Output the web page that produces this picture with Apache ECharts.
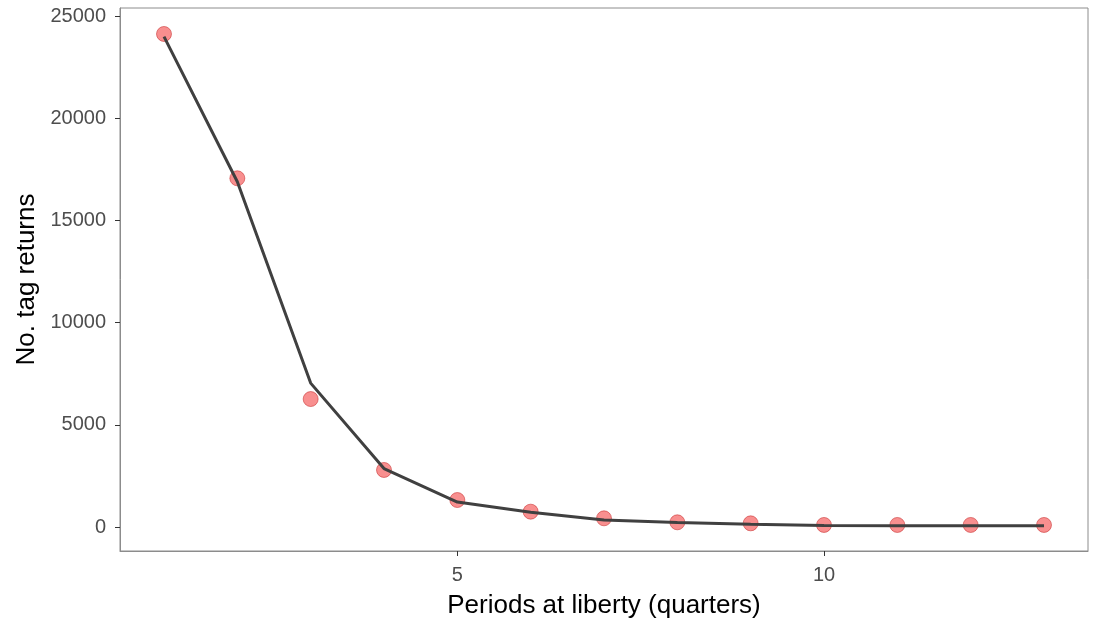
<!DOCTYPE html>
<html>
<head>
<meta charset="utf-8">
<script src="https://cdn.jsdelivr.net/npm/echarts@6/dist/echarts.min.js"></script>
<style>html,body{margin:0;padding:0;background:#fff}#c{width:1095px;height:623px}</style>
</head>
<body>
<div id="c"></div>
<script>
const periods = [1,2,3,4,5,6,7,8,9,10,11,12,13];
const observedReturns = [24120,17060,6260,2790,1320,750,425,230,180,100,100,100,100];
const fittedReturns = [23990,16890,7040,2860,1220,720,340,220,130,70,60,60,60];
const yTicks = [0,5000,10000,15000,20000,25000];
const xTicks = [5,10];

const chart = echarts.init(document.getElementById('c'));
const font = '"Liberation Sans", Arial, sans-serif';
chart.setOption({
  backgroundColor: '#fff',
  animation: false,
  grid: {left: 120, right: 7, top: 8, bottom: 72, show: true, borderColor: '#8c8c8c', borderWidth: 1,
    containLabel: false, outerBoundsMode: 'none'},
  xAxis: {
    type: 'value', min: 0.4, max: 13.6,
    name: 'Periods at liberty (quarters)', nameLocation: 'middle', nameGap: 42,
    nameTextStyle: {fontFamily: font, fontSize: 26, color: '#000'},
    axisLine: {show: true, onZero: false, lineStyle: {color: '#8c8c8c', width: 1}},
    splitLine: {show: false},
    axisTick: {show: true, length: 5, lineStyle: {color: '#333', width: 1}, customValues: xTicks},
    axisLabel: {fontFamily: font, fontSize: 20, color: '#4d4d4d', margin: 14, customValues: xTicks,
      formatter: v => String(v)}
  },
  yAxis: {
    type: 'value', min: -1174, max: 25391,
    name: 'No. tag returns', nameLocation: 'middle', nameGap: 77, nameRotate: 90,
    nameTextStyle: {fontFamily: font, fontSize: 26, color: '#000'},
    axisLine: {show: true, onZero: false, lineStyle: {color: '#8c8c8c', width: 1}},
    splitLine: {show: false},
    axisTick: {show: true, length: 5, lineStyle: {color: '#333', width: 1}, customValues: yTicks},
    axisLabel: {fontFamily: font, fontSize: 20, color: '#4d4d4d', margin: 14, customValues: yTicks,
      formatter: v => String(v)}
  },
  series: [
    {
      type: 'scatter',
      data: periods.map((p, i) => [p, observedReturns[i]]),
      symbolSize: 15,
      itemStyle: {color: 'rgba(240,20,20,0.6)', borderColor: 'rgba(190,20,20,0.6)', borderWidth: 1},
      z: 2
    },
    {
      type: 'line',
      data: periods.map((p, i) => [p, fittedReturns[i]]),
      showSymbol: false,
      lineStyle: {color: '#404040', width: 3},
      z: 3
    }
  ]
});
</script>
</body>
</html>
